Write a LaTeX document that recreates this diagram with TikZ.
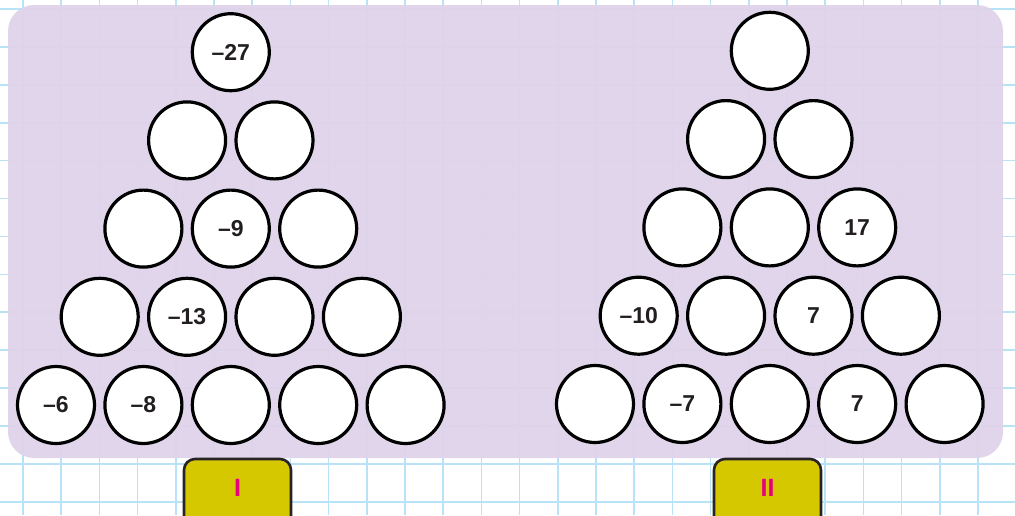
\documentclass[tikz,border=0pt]{standalone}
\usepackage{fontspec}
\setmainfont{Liberation Sans}
\definecolor{gridblue}{RGB}{184,226,246}
\definecolor{panel}{RGB}{223,212,233}
\definecolor{txt}{RGB}{35,31,32}
\definecolor{boxfill}{RGB}{214,200,0}
\definecolor{boxline}{RGB}{40,36,38}
\definecolor{magen}{RGB}{232,0,126}
\tikzset{
  cell/.style={circle,draw=black,line width=3.2pt,fill=white,minimum size=77pt,inner sep=0pt,
    font=\fontsize{23}{25}\selectfont\bfseries,text=txt},
  tag/.style={draw=boxline,line width=2.6pt,fill=boxfill,rounded corners=11pt,minimum width=107pt,
    minimum height=70pt,inner sep=0pt},
  tagtext/.style={font=\fontsize{25}{27}\selectfont\bfseries,text=magen}
}
\begin{document}
\begin{tikzpicture}[x=1pt,y=-1pt]
\useasboundingbox (0,0) rectangle (1015,515);
\clip (0,0) rectangle (1015,515);
% grid
\foreach \k in {0,...,25} \draw[gridblue,line width=1.6pt] ({23+38.2*\k},0) -- ({23+38.2*\k},515);
\foreach \k in {0,...,13} \draw[gridblue,line width=1.6pt] (0,{9+37.9*\k}) -- (1015,{9+37.9*\k});
% panel
\fill[panel,fill opacity=0.97,rounded corners=26pt] (8,5) rectangle (1003,458);
% left pyramid
\foreach \r/\labs in {0/{–6,–8,,,},1/{,–13,,},2/{,–9,},3/{,}}{
  \foreach \t [count=\i from 0] in \labs {
    \node[cell] (L\r\i) at ({56+43.7*\r+87.4*\i},{405-88.2*\r}) {\t};
  }
}
\node[cell] (L40) at (230.8,52.2) {–27};
% right pyramid
\foreach \r/\labs in {0/{,–7,,7,},1/{–10,,7,},2/{,,17},3/{,}}{
  \foreach \t [count=\i from 0] in \labs {
    \node[cell] (R\r\i) at ({595+43.7*\r+87.4*\i},{404-88.3*\r}) {\t};
  }
}
\node[cell] (R40) at (769.8,50.8) {};
% tags
\node[tag] (tagI) at (237.5,494) {};
\node[tagtext] (tagIt) at (237.5,488) {I};
\node[tag] (tagII) at (767.5,494) {};
\node[tagtext] (tagIIt) at (767.5,488) {II};
\end{tikzpicture}
\end{document}
